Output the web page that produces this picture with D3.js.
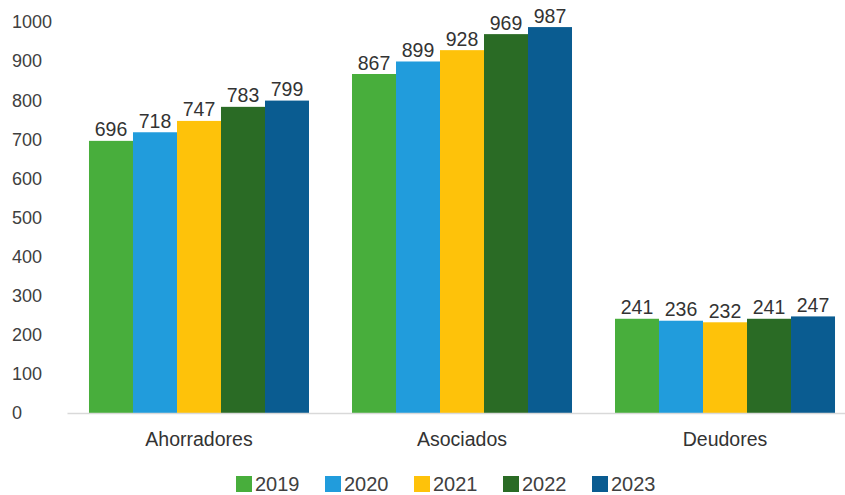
<!DOCTYPE html>
<html><head><meta charset="utf-8">
<script src="https://cdn.jsdelivr.net/npm/d3@7"></script>
<style>body{margin:0;background:#fff;} text{font-family:"Liberation Sans",Arial,sans-serif;}</style>
</head><body>
<svg id="c" width="845" height="495"></svg>
<script>
const categories = ["Ahorradores", "Asociados", "Deudores"];
const years = ["2019", "2020", "2021", "2022", "2023"];
const v2019 = [696, 867, 241];
const v2020 = [718, 899, 236];
const v2021 = [747, 928, 232];
const v2022 = [783, 969, 241];
const v2023 = [799, 987, 247];
const yTicks = [0, 100, 200, 300, 400, 500, 600, 700, 800, 900, 1000];
const colors = ["#48ae3c", "#219cdc", "#fec20a", "#2a6b25", "#0a5c91"];

const series = [v2019, v2020, v2021, v2022, v2023];
const svg = d3.select("#c");
const y = d3.scaleLinear().domain([0, 1000]).range([413, 22]);
const x0 = d3.scaleBand().domain(categories).range([67.5, 856.5]).paddingInner(0.1635).paddingOuter(0.0817);
const x1 = d3.scaleBand().domain(years).range([0, x0.bandwidth()]).padding(0);
const color = d3.scaleOrdinal().domain(years).range(colors);

// y tick labels
svg.append("g").selectAll("text").data(yTicks).join("text")
  .attr("x", 12).attr("y", d => y(d)).attr("dy", "0.35em")
  .attr("font-size", 18).attr("fill", "#404040").text(d => d);

// bars
const g = svg.append("g");
categories.forEach((c, ci) => {
  years.forEach((yr, yi) => {
    const v = series[yi][ci];
    g.append("rect").attr("x", x0(c) + x1(yr)).attr("y", y(v))
      .attr("width", x1.bandwidth()).attr("height", y(0) - y(v))
      .attr("fill", color(yr));
    g.append("text").attr("x", x0(c) + x1(yr) + x1.bandwidth() / 2).attr("y", y(v) - 4.5)
      .attr("text-anchor", "middle").attr("font-size", 19.5).attr("fill", "#333").text(v);
  });
});

// axis line
svg.append("line").attr("x1", 67.5).attr("x2", 845).attr("y1", 413.5).attr("y2", 413.5)
  .attr("stroke", "#d9d9d9").attr("stroke-width", 1.5);

// category labels
svg.append("g").selectAll("text").data(categories).join("text")
  .attr("x", d => x0(d) + x0.bandwidth() / 2).attr("y", 439).attr("dy", "0.35em")
  .attr("text-anchor", "middle").attr("font-size", 19.5).attr("fill", "#333").text(d => d);

// legend
const lg = svg.append("g").selectAll("g").data(years).join("g")
  .attr("transform", (d, i) => `translate(${236 + i * 89},476)`);
lg.append("rect").attr("width", 16).attr("height", 16).attr("fill", d => color(d));
lg.append("text").attr("x", 19).attr("y", 8).attr("dy", "0.35em")
  .attr("font-size", 20).attr("fill", "#404040").text(d => d);
</script>
</body></html>
